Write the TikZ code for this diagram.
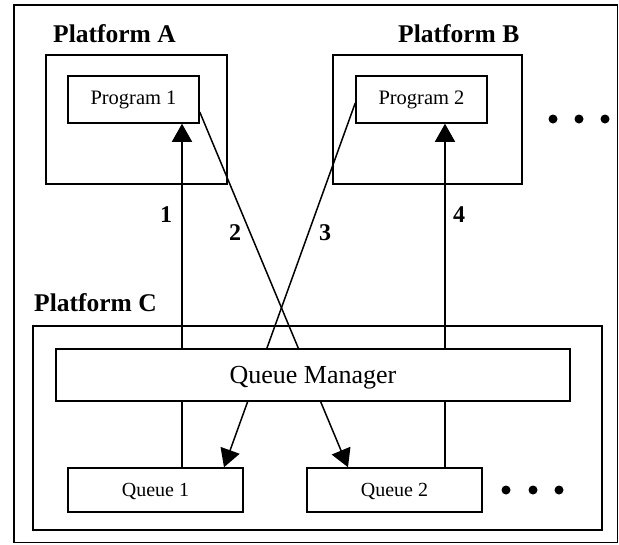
\documentclass[tikz,border=0pt]{standalone}
\usepackage{fontspec}
\setmainfont{Liberation Serif}
\usetikzlibrary{arrows.meta}
\pgfdeclarelayer{background}
\pgfsetlayers{background,main}
\begin{document}
\begin{tikzpicture}[x=1pt,y=-1pt,
  plat/.style={draw, line width=1.5pt, inner sep=0pt},
  box/.style={draw, line width=1.5pt, fill=white, inner sep=0pt},
  progbox/.style={box, minimum width=131pt, minimum height=47pt, font=\fontsize{20.5}{24}\selectfont},
  queuebox/.style={box, minimum width=175pt, minimum height=44pt, font=\fontsize{20}{24}\selectfont, text height=13.6pt, text depth=0pt},
  qmbox/.style={box, minimum width=514pt, minimum height=52pt, font=\fontsize{26}{30}\selectfont, text height=17.7pt, text depth=0pt},
  title/.style={font=\fontsize{25.5}{30}\selectfont\bfseries, anchor=base west, inner sep=0pt},
  num/.style={font=\fontsize{24}{28}\selectfont\bfseries, anchor=base west, inner sep=0pt},
  conn/.style={line width=1.5pt, -{Triangle[length=18pt,width=20pt]}},
  dotmark/.style={circle, fill=black, inner sep=0pt, minimum size=9pt},
]
\useasboundingbox (0,0) rectangle (619,544);
\draw[line width=1.5pt] (14,5) rectangle (617.5,542.5);

% platforms
\node[plat, minimum width=181pt, minimum height=129pt] (pa) at (136.5,119.5) {};
\node[plat, minimum width=189pt, minimum height=129pt] (pb) at (427.5,119.5) {};
\node[plat, minimum width=569pt, minimum height=204pt] (pc) at (317.5,428) {};
\node[title] (ta) at (53,42) {Platform A};
\node[title] (tb) at (398,42) {Platform B};
\node[title] (tc) at (34,311) {Platform C};

% boxes
\node[progbox] (p1) at (133.5,99.5) {Program 1};
\node[progbox] (p2) at (421.5,99.5) {Program 2};
\node[qmbox] (qm) at (313,375) {Queue Manager};
\node[queuebox] (q1) at (155.5,490) {Queue 1};
\node[queuebox] (q2) at (394.5,490) {Queue 2};

% connector columns
\coordinate (x1) at (182,0);
\coordinate (x4) at (445,0);

\begin{pgfonlayer}{background}
\draw[conn] (q1.north -| x1) -- (p1.south -| x1);
\draw[conn] (q2.north -| x4) -- (p2.south -| x4);
\draw[conn] ([yshift=-12.5pt]p1.east) -- ([xshift=-46.5pt]q2.north);
\draw[conn] ([yshift=-3.5pt]p2.west) -- ([xshift=68.5pt]q1.north);
\end{pgfonlayer}

% labels
\node[num] (l1) at (160,222) {1};
\node[num] (l2) at (229,240) {2};
\node[num] (l3) at (319,240) {3};
\node[num] (l4) at (453,222) {4};

% ellipses
\node[dotmark] (d1) at (553,119) {};
\node[dotmark] (d2) at (579,119) {};
\node[dotmark] (d3) at (605,119) {};
\node[dotmark] (d4) at (506,490) {};
\node[dotmark] (d5) at (533,490) {};
\node[dotmark] (d6) at (559,490) {};
\end{tikzpicture}
\end{document}
